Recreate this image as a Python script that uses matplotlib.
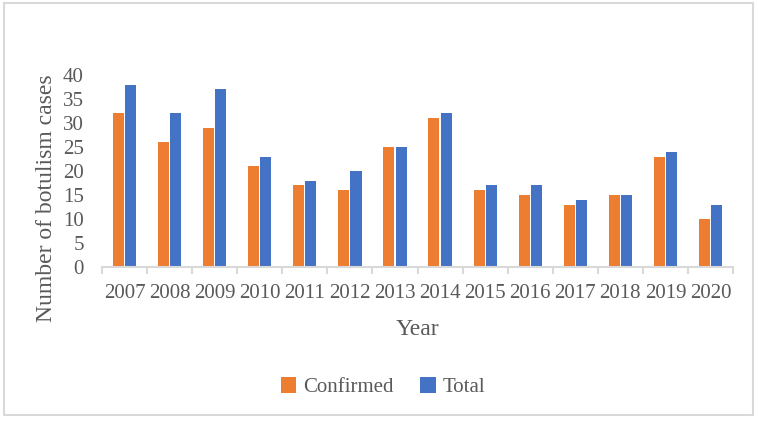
import matplotlib.pyplot as plt
from matplotlib.patches import Rectangle
import numpy as np

years = ['2007', '2008', '2009', '2010', '2011', '2012', '2013',
         '2014', '2015', '2016', '2017', '2018', '2019', '2020']
confirmed = [32, 26, 29, 21, 17, 16, 25, 31, 16, 15, 13, 15, 23, 10]
total = [38, 32, 37, 23, 18, 20, 25, 32, 17, 17, 14, 15, 24, 13]

plt.rcParams['font.family'] = ['Liberation Serif']
text_col = '#595959'
line_col = '#D9D9D9'

fig = plt.figure(figsize=(7.58, 4.21), dpi=100)
ax = fig.add_axes([0.1346, 0.3658, 0.8324, 0.4561])

x = np.arange(len(years))
w = 0.245
ax.bar(x - 0.135, confirmed, w, color='#ED7D31', label='Confirmed')
ax.bar(x + 0.135, total, w, color='#4472C4', label='Total')

ax.set_xlim(-0.5, len(years) - 0.5)
ax.set_ylim(0, 40)
ax.set_yticks(range(0, 41, 5))
ax.set_xticks(x)
ax.set_xticklabels(years)
ax.set_xticks(np.arange(-0.5, len(years)), minor=True)
ax.tick_params(axis='x', which='major', length=0, pad=12,
               labelsize=15, labelcolor=text_col)
ax.tick_params(axis='x', which='minor', length=5, width=1.5, color=line_col)
ax.tick_params(axis='y', length=0, pad=13, labelsize=15, labelcolor=text_col)

for s in ['top', 'right', 'left']:
    ax.spines[s].set_visible(False)
ax.spines['bottom'].set_color(line_col)
ax.spines['bottom'].set_linewidth(1.5)

ax.set_xlabel('Year', fontsize=17, color=text_col)
ax.xaxis.set_label_coords(0.5, -0.27)
ax.set_ylabel('Number of botulism cases', fontsize=17, color=text_col)
ax.yaxis.set_label_coords(-0.072, 0.36)

fig.legend(loc='center', bbox_to_anchor=(0.505, 0.08), ncol=2, frameon=False,
           fontsize=15, labelcolor=text_col, handlelength=0.75,
           handleheight=0.75, handletextpad=0.3, columnspacing=1.3)

fig.patches.append(Rectangle((0.005, 0.014), 0.988, 0.978,
                             transform=fig.transFigure, fill=False,
                             edgecolor=line_col, linewidth=1.5))

fig.savefig('out.png', dpi=100)
